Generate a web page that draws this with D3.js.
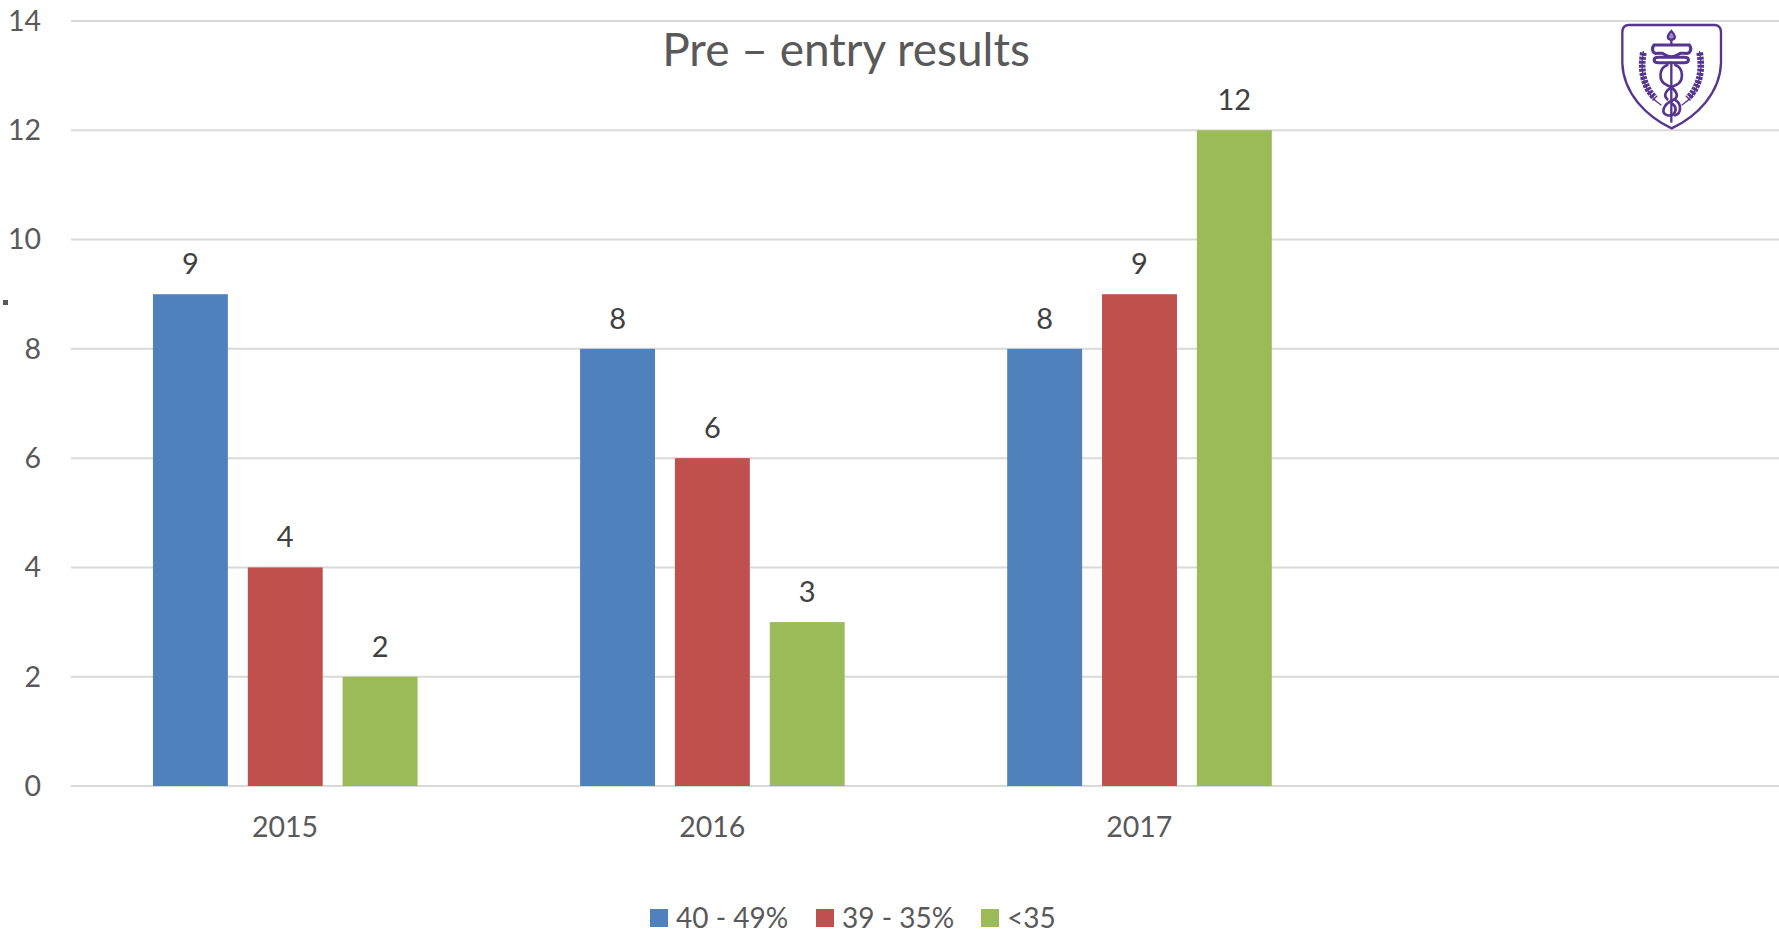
<!DOCTYPE html>
<html>
<head>
<meta charset="utf-8">
<script src="https://cdn.jsdelivr.net/npm/d3@7"></script>
<style>
  html, body { margin: 0; padding: 0; background: #fff; overflow: hidden; }
  text { font-family: Lato, "Open Sans", sans-serif; }
  .axis text { fill: #595959; font-size: 28.5px; }
  .axis path { display: none; }
</style>
</head>
<body>
<div id="chart"></div>
<script>
// Datos del grafico
const years = ["2015", "2016", "2017", ""];   // the source has an empty fourth slot
const seriesNames = ["40 - 49%", "39 - 35%", "<35"];
const seriesColors = ["#4f81bd", "#c0504d", "#9bbb59"];
const values40 = [9, 8, 8];
const values39 = [4, 6, 9];
const values35 = [2, 3, 12];
const yTicks = [0, 2, 4, 6, 8, 10, 12, 14];

const allSeries = [values40, values39, values35];

const width = 1779, height = 935;
const margin = { top: 21, right: 0, bottom: 149, left: 71 };

const svg = d3.select("#chart").append("svg")
  .attr("width", width)
  .attr("height", height)
  .style("display", "block");

const x = d3.scaleBand()
  .domain(years)
  .range([margin.left + 0.5, width + 1]);

const xInner = d3.scaleBand()
  .domain(seriesNames)
  .range([71.5, 356])
  .paddingInner(0.21)
  .paddingOuter(0.105);

const y = d3.scaleLinear()
  .domain([0, 14])
  .range([height - margin.bottom, margin.top]);

// Grid lines
svg.append("g").selectAll("line")
  .data(yTicks)
  .enter().append("line")
  .attr("x1", margin.left)
  .attr("x2", width)
  .attr("y1", d => y(d))
  .attr("y2", d => y(d))
  .attr("stroke", "#d9d9d9")
  .attr("stroke-width", 2);

// Axes
svg.append("g")
  .attr("class", "axis")
  .attr("transform", `translate(${margin.left - 30},0)`)
  .call(d3.axisLeft(y).tickValues(yTicks).tickSize(0).tickPadding(0))
  .call(g => g.selectAll("text").attr("dy", "0.33em"));

svg.append("g")
  .attr("class", "axis")
  .attr("transform", `translate(0,${height - margin.bottom})`)
  .call(d3.axisBottom(x).tickSize(0).tickPadding(51))
  .call(g => g.selectAll("text").attr("dy", "0"));

// Bars and value labels
allSeries.forEach((vals, s) => {
  const name = seriesNames[s];
  const g = svg.append("g");
  g.selectAll("rect")
    .data(vals)
    .enter().append("rect")
    .attr("x", (d, i) => x(years[i]) + xInner(name))
    .attr("y", d => y(d))
    .attr("width", xInner.bandwidth())
    .attr("height", d => y(0) - y(d))
    .attr("fill", seriesColors[s]);
  g.selectAll("text")
    .data(vals)
    .enter().append("text")
    .attr("x", (d, i) => x(years[i]) + xInner(name) + xInner.bandwidth() / 2)
    .attr("y", d => y(d) - 20)
    .attr("text-anchor", "middle")
    .attr("fill", "#404040")
    .style("font-size", "29px")
    .text(d => d);
});

// Title
svg.append("text")
  .attr("x", 846)
  .attr("y", 66)
  .attr("text-anchor", "middle")
  .attr("fill", "#595959")
  .style("font-size", "46px")
  .text("Pre – entry results");

// Legend
const legendX = [650, 816, 981];
const legend = svg.append("g").selectAll("g")
  .data(seriesNames)
  .enter().append("g")
  .attr("transform", (d, i) => `translate(${legendX[i]},909)`);
legend.append("rect")
  .attr("width", 18)
  .attr("height", 18)
  .attr("fill", (d, i) => seriesColors[i]);
legend.append("text")
  .attr("x", 26)
  .attr("y", 19)
  .attr("fill", "#595959")
  .style("font-size", "28px")
  .text(d => d);

// Stray dot on the left edge
svg.append("rect")
  .attr("x", 3).attr("y", 300)
  .attr("width", 5).attr("height", 5)
  .attr("fill", "#595959");

// Logo (shield with caduceus), drawn in zoomed crop units
const logo = svg.append("g")
  .attr("transform", "translate(1580,0) scale(0.3333)")
  .attr("fill", "none")
  .attr("stroke", "#56358f")
  .attr("stroke-linecap", "round");
logo.append("path").attr("stroke-width", 7)
  .attr("d", "M145,75 L405,75 Q423,77 423,97 L423,190 C420,280 350,350 275,385 C200,350 130,280 127,190 L127,97 Q127,77 145,75 Z");
// flame
logo.append("path").attr("stroke-width", 7)
  .attr("fill", "#a08cc0")
  .attr("d", "M274,93 C260,108 260,118 274,120 C288,118 288,108 274,93 Z M274,120 L274,135");
// crown
logo.append("path").attr("stroke-width", 9)
  .attr("d", "M222,135 L328,135 M222,135 C212,148 220,162 232,160 L245,160 C252,160 258,170 274,170 C290,170 296,160 303,160 L316,160 C330,162 338,148 328,135");
logo.append("path").attr("stroke-width", 9)
  .attr("d", "M236,172 L312,172 C330,172 330,188 312,188 L236,188 C218,188 218,172 236,172 Z");
// staff and snake
logo.append("path").attr("stroke-width", 7).attr("d", "M274,188 L274,365");
logo.append("path").attr("stroke-width", 8)
  .attr("d", "M262,195 C235,205 235,245 260,255 C290,268 300,290 280,300 C250,312 240,340 262,346 C285,350 295,325 278,312");
logo.append("path").attr("stroke-width", 8)
  .attr("d", "M286,195 C312,205 312,245 288,255 C258,268 248,285 262,298 M286,300 C305,312 305,340 285,346");
// wreaths
[[1, 0], [-1, 549]].forEach(([sx, tx]) => {
  const w = logo.append("g").attr("transform", `translate(${tx},0) scale(${sx},1)`);
  w.append("path").attr("stroke-width", 4).attr("d", "M190,155 C178,220 195,285 243,315");
  w.append("path").attr("stroke-width", 20).attr("stroke-linecap", "butt").attr("stroke-dasharray", "9 3")
    .attr("d", "M190,158 C180,215 192,262 226,296");
});
</script>
</body>
</html>
